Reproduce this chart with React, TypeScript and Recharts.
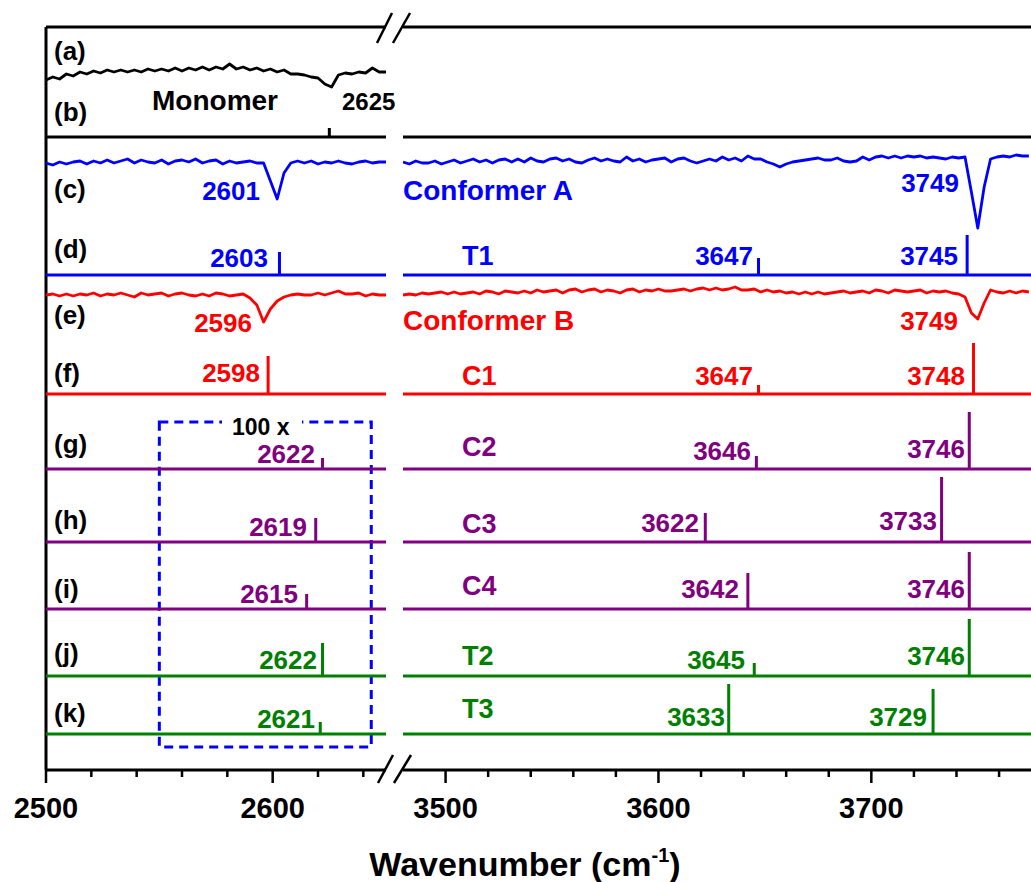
import React from 'react'
import { LineChart, Line, XAxis, YAxis, ReferenceLine, ReferenceArea } from 'recharts'

const FONT = '"Liberation Sans", Arial, Helvetica, sans-serif'

// wavenumber windows of the broken axis
const LEFT_DOMAIN: [number, number] = [2500, 2650]
const RIGHT_DOMAIN: [number, number] = [3480, 3775]
const LEFT_TICKS = [2500, 2520, 2540, 2560, 2580, 2600, 2620, 2640]
const RIGHT_TICKS = [3500, 3520, 3540, 3560, 3580, 3600, 3620, 3640, 3660, 3680, 3700, 3720, 3740, 3760]

// experimental IR traces, one value every 3 cm-1 from the panel start
const SAMPLE_STEP = 3
const monomerLeft = [
  -8, -5, -7, -2, -4, 0, -2, 1, -1, 2,
  0, 2, 0, 2, 0, 3, 1, 3, 1, 4,
  1, 4, 2, 5, 2, 5, 3, 8, 3, 5,
  2, 4, 1, 3, 0, 2, -2, -2, -3, -5,
  -6, -12, -15, -3, -1, -2, 0, -1, 4, 0,
  0,
]
const confALeft = [
  0, -2, 1, -1, 1, 2, -1, 2, 0, 3,
  0, 2, 4, 0, 3, 1, 0, 3, -1, 2,
  3, 1, 4, 0, 2, 3, -1, 2, 0, 1,
  2, 0, 0, -18, -36, -10, 0, 2, 0, 2,
  -1, 1, 0, 2, 0, -1, 1, 2, 0, 1,
  1,
]
const confARight = [
  0, -2, 1, -1, -1, 1, -2, 0, 2, -1,
  1, 3, 0, 2, -1, 2, 3, 0, 3, 0,
  4, 1, 0, 3, 4, 1, 3, 0, -1, 2,
  4, 1, 3, 1, 0, 5, 1, 3, 0, 2,
  3, 4, 0, 3, 4, 1, -1, 1, 3, 1,
  5, 2, 4, 1, 6, 3, 3, 0, -2, -5,
  -2, 0, 1, 2, 3, 4, 2, 2, 4, 1,
  0, 1, 5, 2, 5, 6, 4, 6, 4, 6,
  5, 6, 4, 5, 4, 3, 5, 4, 5, -30,
  -66, -25, 3, 5, 6, 5, 7, 6, 6,
]
const confBLeft = [
  0, 1, -1, 1, -1, 1, 0, 2, -1, 1,
  0, 2, 0, -2, 2, 0, 1, 2, -1, 1,
  2, 0, -1, 1, -1, 2, 1, -1, 0, 1,
  -3, -10, -27, -14, -6, -2, 0, 1, 0, 0,
  2, 0, 2, 4, 1, 1, 2, -1, 1, 0,
  0,
]
const confBRight = [
  -2, -1, -2, 0, -1, 0, 1, -1, 1, -1,
  0, 1, -1, 2, 1, -1, 2, 1, 0, 2,
  0, 3, 1, 2, 3, 0, 3, 4, 1, 3,
  4, 1, 3, 2, 0, 3, 4, 1, 3, 2,
  4, 2, 2, 3, 4, 2, 4, 5, 3, 5,
  3, 4, 6, 3, 3, 4, 1, 3, 1, 2,
  0, 1, -1, 1, -1, 1, -1, 0, 1, 2,
  0, 1, 2, 0, 3, 2, 0, 3, 2, 1,
  2, 3, 0, 2, 1, 2, 0, -1, -4, -20,
  -26, -10, 3, 1, 0, 2, 0, 2, 1,
]

// calculated stick spectra (frequency, displayed intensity)
const monomerFreq = [2625]
const monomerInt = [9]
const t1Freq = [2603, 3647, 3745]
const t1Int = [23, 17, 40]
const c1Freq = [2598, 3647, 3748]
const c1Int = [38, 9, 51]
const c2Freq = [2622, 3646, 3746]
const c2Int = [11, 13, 57]
const c3Freq = [2619, 3622, 3733]
const c3Int = [24, 29, 65]
const c4Freq = [2615, 3642, 3746]
const c4Int = [15, 36, 57]
const t2Freq = [2622, 3645, 3746]
const t2Int = [33, 13, 57]
const t3Freq = [2621, 3633, 3729]
const t3Int = [12, 50, 45]

const BLACK = '#000000'
const BLUE = '#0000FF'
const RED = '#FF0000'
const PURPLE = '#800080'
const GREEN = '#008000'

// layout: vertical offset of each row (pixels above the x axis)
const TOP = 27
const AXIS_Y = 770
const Y_MAX = AXIS_Y - TOP
const BASE = { a: 698, b: 633, c: 607, cR: 608, d: 495, e: 475, eR: 477, f: 376, g: 301, h: 228, i: 161, j: 94, k: 36 }

type Pt = { x: number; y: number }

const trace = (vals: number[], start: number, base: number): Pt[] =>
  vals.map((v, i) => ({ x: start + i * SAMPLE_STEP, y: base + v }))

const sticks = (freq: number[], ints: number[], dom: [number, number], base: number): Pt[] => {
  const pts: Pt[] = [{ x: dom[0], y: base }]
  freq.forEach((f, k) => {
    if (f >= dom[0] && f <= dom[1]) {
      pts.push({ x: f, y: base }, { x: f, y: base + ints[k] }, { x: f, y: base })
    }
  })
  pts.push({ x: dom[1], y: base })
  return pts
}

const stickRows = [
  { freq: monomerFreq, ints: monomerInt, base: BASE.b, color: BLACK },
  { freq: t1Freq, ints: t1Int, base: BASE.d, color: BLUE },
  { freq: c1Freq, ints: c1Int, base: BASE.f, color: RED },
  { freq: c2Freq, ints: c2Int, base: BASE.g, color: PURPLE },
  { freq: c3Freq, ints: c3Int, base: BASE.h, color: PURPLE },
  { freq: c4Freq, ints: c4Int, base: BASE.i, color: PURPLE },
  { freq: t2Freq, ints: t2Int, base: BASE.j, color: GREEN },
  { freq: t3Freq, ints: t3Int, base: BASE.k, color: GREEN },
]

const AxisTick = (props: any) => {
  const { x, payload } = props
  const v = payload.value
  const major = v % 100 === 0
  return (
    <g>
      <line x1={x} x2={x} y1={AXIS_Y} y2={AXIS_Y + (major ? 13 : 7)} stroke={BLACK} strokeWidth={2.5} />
      {major && (
        <text x={x} y={818} textAnchor="middle" fontSize={29} fontWeight="bold" fontFamily={FONT} fill={BLACK}>
          {v}
        </text>
      )}
    </g>
  )
}

type Tx = { t: string; x: number; y: number; c: string; s?: number; a?: 'start' | 'end' | 'middle' }

const TEXTS: Tx[] = [
  { t: '(a)', x: 54, y: 60, c: BLACK, s: 26, a: 'start' },
  { t: '(b)', x: 54, y: 121, c: BLACK, s: 26, a: 'start' },
  { t: '(c)', x: 54, y: 198, c: BLACK, s: 26, a: 'start' },
  { t: '(d)', x: 54, y: 258, c: BLACK, s: 26, a: 'start' },
  { t: '(e)', x: 54, y: 324, c: BLACK, s: 26, a: 'start' },
  { t: '(f)', x: 54, y: 382, c: BLACK, s: 26, a: 'start' },
  { t: '(g)', x: 54, y: 453, c: BLACK, s: 26, a: 'start' },
  { t: '(h)', x: 54, y: 529, c: BLACK, s: 26, a: 'start' },
  { t: '(i)', x: 54, y: 598, c: BLACK, s: 26, a: 'start' },
  { t: '(j)', x: 54, y: 662, c: BLACK, s: 26, a: 'start' },
  { t: '(k)', x: 54, y: 722, c: BLACK, s: 26, a: 'start' },
  { t: 'Monomer', x: 152, y: 110, c: BLACK, s: 28, a: 'start' },
  { t: '2625', x: 342, y: 110, c: BLACK, s: 24, a: 'start' },
  { t: '2601', x: 260, y: 200, c: BLUE },
  { t: 'Conformer A', x: 403, y: 200, c: BLUE, s: 28, a: 'start' },
  { t: '3749', x: 959, y: 192, c: BLUE },
  { t: '2603', x: 268, y: 267, c: BLUE },
  { t: 'T1', x: 462, y: 265, c: BLUE, s: 27, a: 'start' },
  { t: '3647', x: 753, y: 265, c: BLUE },
  { t: '3745', x: 958, y: 265, c: BLUE },
  { t: '2596', x: 252, y: 332, c: RED },
  { t: 'Conformer B', x: 403, y: 330, c: RED, s: 28, a: 'start' },
  { t: '3749', x: 958, y: 330, c: RED },
  { t: '2598', x: 260, y: 382, c: RED },
  { t: 'C1', x: 462, y: 385, c: RED, s: 27, a: 'start' },
  { t: '3647', x: 753, y: 385, c: RED },
  { t: '3748', x: 965, y: 385, c: RED },
  { t: '2622', x: 315, y: 463, c: PURPLE },
  { t: 'C2', x: 462, y: 456, c: PURPLE, s: 27, a: 'start' },
  { t: '3646', x: 751, y: 460, c: PURPLE },
  { t: '3746', x: 965, y: 458, c: PURPLE },
  { t: '2619', x: 307, y: 536, c: PURPLE },
  { t: 'C3', x: 462, y: 533, c: PURPLE, s: 27, a: 'start' },
  { t: '3622', x: 699, y: 532, c: PURPLE },
  { t: '3733', x: 937, y: 530, c: PURPLE },
  { t: '2615', x: 298, y: 603, c: PURPLE },
  { t: 'C4', x: 462, y: 595, c: PURPLE, s: 27, a: 'start' },
  { t: '3642', x: 739, y: 598, c: PURPLE },
  { t: '3746', x: 965, y: 598, c: PURPLE },
  { t: '2622', x: 317, y: 669, c: GREEN },
  { t: 'T2', x: 462, y: 665, c: GREEN, s: 27, a: 'start' },
  { t: '3645', x: 745, y: 669, c: GREEN },
  { t: '3746', x: 965, y: 665, c: GREEN },
  { t: '2621', x: 315, y: 728, c: GREEN },
  { t: 'T3', x: 462, y: 718, c: GREEN, s: 27, a: 'start' },
  { t: '3633', x: 725, y: 726, c: GREEN },
  { t: '3729', x: 927, y: 726, c: GREEN },
]

const Panel = ({ dom, ticks, width, left, right, traces }: {
  dom: [number, number]; ticks: number[]; width: number; left: number; right: number
  traces: { data: Pt[]; color: string }[]
}) => (
  <LineChart width={width} height={882} margin={{ top: TOP, right, bottom: 82, left }}>
    <XAxis
      type="number"
      dataKey="x"
      domain={dom}
      allowDataOverflow
      ticks={ticks}
      interval={0}
      height={30}
      tickLine={false}
      axisLine={{ stroke: BLACK, strokeWidth: 3 }}
      tick={(p: any) => <AxisTick {...p} />}
    />
    <YAxis type="number" domain={[0, Y_MAX]} hide allowDataOverflow />
    <ReferenceLine y={Y_MAX} stroke={BLACK} strokeWidth={3} />
    {dom[0] === LEFT_DOMAIN[0] && <ReferenceLine x={LEFT_DOMAIN[0]} stroke={BLACK} strokeWidth={3} />}
    {dom[0] === LEFT_DOMAIN[0] && (
      <ReferenceArea x1={2550} x2={2643.5} y1={23} y2={348} fill="none" fillOpacity={0}
        stroke={BLUE} strokeWidth={3} strokeDasharray="9 6" />
    )}
    {traces.map((tr, i) => (
      <Line key={'t' + i} data={tr.data} dataKey="y" stroke={tr.color} strokeWidth={2.8} dot={false}
        strokeLinejoin="round" isAnimationActive={false} />
    ))}
    {stickRows.map((r, i) => (
      <Line key={'s' + i} data={sticks(r.freq, r.ints, dom, r.base)} dataKey="y" stroke={r.color}
        strokeWidth={3} dot={false} isAnimationActive={false} />
    ))}
  </LineChart>
)

export default function App() {
  const leftTraces = [
    { data: trace(monomerLeft, LEFT_DOMAIN[0], BASE.a), color: BLACK },
    { data: trace(confALeft, LEFT_DOMAIN[0], BASE.c), color: BLUE },
    { data: trace(confBLeft, LEFT_DOMAIN[0], BASE.e), color: RED },
  ]
  const rightTraces = [
    { data: trace(confARight, RIGHT_DOMAIN[0], BASE.cR), color: BLUE },
    { data: trace(confBRight, RIGHT_DOMAIN[0], BASE.eR), color: RED },
  ]
  return (
    <div style={{ position: 'absolute', left: 0, top: 0, width: 1031, height: 882, background: '#fff', overflow: 'hidden' }}>
      <div style={{ position: 'absolute', left: 0, top: 0 }}>
        <Panel dom={LEFT_DOMAIN} ticks={LEFT_TICKS} width={400} left={46} right={14} traces={leftTraces} />
      </div>
      <div style={{ position: 'absolute', left: 395, top: 0 }}>
        <Panel dom={RIGHT_DOMAIN} ticks={RIGHT_TICKS} width={636} left={8} right={0} traces={rightTraces} />
      </div>
      <svg width={1031} height={882} style={{ position: 'absolute', left: 0, top: 0, pointerEvents: 'none' }}>
        <rect x={222} y={416} width={80} height={11} fill="#fff" />
        <g stroke={BLACK} strokeWidth={2.5}>
          <line x1={377} y1={43} x2={392} y2={13} />
          <line x1={393} y1={43} x2={410} y2={13} />
          <line x1={378} y1={783} x2={393} y2={755} />
          <line x1={394} y1={783} x2={411} y2={755} />
        </g>
        <g fontFamily={FONT} fontWeight="bold">
          <text x={232} y={435} fontSize={23} fill={BLACK}>100 x</text>
          {TEXTS.map((d, i) => (
            <text key={i} x={d.x} y={d.y} fill={d.c} fontSize={d.s ?? 26} textAnchor={d.a ?? 'end'}>
              {d.t}
            </text>
          ))}
          <text x={525} y={876} textAnchor="middle" fontSize={34} fill={BLACK}>
            Wavenumber (cm<tspan fontSize={20} dy={-14}>-1</tspan><tspan dy={14}>)</tspan>
          </text>
        </g>
      </svg>
    </div>
  )
}
